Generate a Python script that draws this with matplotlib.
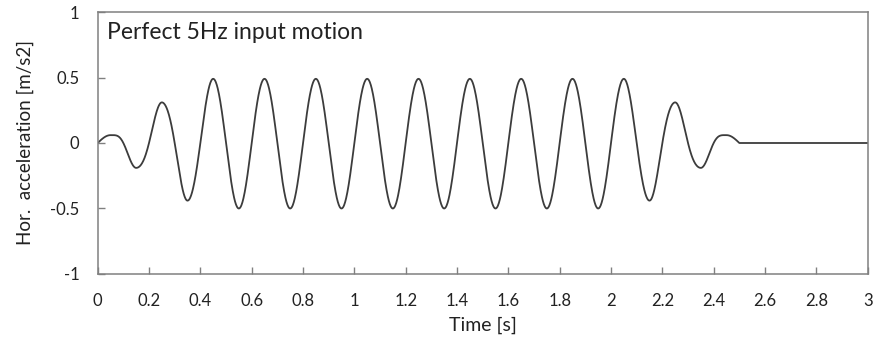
import matplotlib
matplotlib.use("Agg")
import matplotlib.pyplot as plt
import numpy as np

# ─── Data ────────────────────────────────────────────────────────────────────
# peak value of each half-cycle (0.1 s long) of the 5 Hz motion, 0 – 2.5 s
HALF_CYCLE_S = 0.1
LOBE_PEAKS = [0.06, -0.19, 0.31, -0.44, 0.49, -0.50, 0.49, -0.50, 0.49, -0.50,
              0.49, -0.50, 0.49, -0.50, 0.49, -0.50, 0.49, -0.50, 0.49, -0.50,
              0.49, -0.44, 0.31, -0.19, 0.06]
T_END = 3.0
X_TICKS = [0, 0.2, 0.4, 0.6, 0.8, 1, 1.2, 1.4, 1.6, 1.8, 2, 2.2, 2.4, 2.6, 2.8, 3]
X_TICK_LABELS = ["0", "0.2", "0.4", "0.6", "0.8", "1", "1.2", "1.4", "1.6",
                 "1.8", "2", "2.2", "2.4", "2.6", "2.8", "3"]
Y_TICKS = [-1, -0.5, 0, 0.5, 1]
Y_TICK_LABELS = ["-1", "-0.5", "0", "0.5", "1"]

plt.rcParams.update({
    "font.family": ["Lato", "DejaVu Sans"],
    "font.size": 12,
})

# ─── Build the trace ─────────────────────────────────────────────────────────
# carrier = sine with the half-cycle length above; its envelope passes through
# the read peak magnitudes, blended smoothly between lobe centres
n = len(LOBE_PEAKS)
h = HALF_CYCLE_S
t_wave = np.linspace(0, n * h, 2000)
mag = np.abs(LOBE_PEAKS)
centres = np.concatenate([[0.0], (np.arange(n) + 0.5) * h, [n * h]])
mags = np.concatenate([[mag[0]], mag, [mag[-1]]])
idx = np.clip(np.searchsorted(centres, t_wave, side="right") - 1, 0, len(centres) - 2)
s = (t_wave - centres[idx]) / (centres[idx + 1] - centres[idx])
env = mags[idx] + (mags[idx + 1] - mags[idx]) * (1 - np.cos(np.pi * s)) / 2
sign0 = np.sign(LOBE_PEAKS[0])
a_wave = sign0 * env * np.sin(np.pi * t_wave / h)

t = np.concatenate([t_wave, [T_END]])
a = np.concatenate([a_wave, [0.0]])

fig = plt.figure(figsize=(8.76, 3.43), dpi=100)
ax = fig.add_axes([0.1115, 0.2012, 0.879, 0.7638])

ax.plot(t, a, color="#3c3c3c", lw=1.3)

ax.set_xlim(0, 3)
ax.set_ylim(-1, 1)
ax.set_xticks(X_TICKS)
ax.set_xticklabels(X_TICK_LABELS)
ax.set_yticks(Y_TICKS)
ax.set_yticklabels(Y_TICK_LABELS)
ax.tick_params(axis="x", direction="in", length=5, width=1, color="#808080",
               pad=14, labelsize=12, labelcolor="#222222")
ax.tick_params(axis="y", direction="in", length=5, width=1, color="#808080",
               pad=13, labelsize=12, labelcolor="#222222")
for sp in ax.spines.values():
    sp.set_color("#808080")
    sp.set_linewidth(1.1)

ax.set_xlabel("Time [s]", fontsize=14, color="#222222", labelpad=5)
ax.set_ylabel("Hor.  acceleration [m/s2]", fontsize=13.5, color="#222222",
              labelpad=12)
ax.text(0.012, 0.92, "Perfect 5Hz input motion", transform=ax.transAxes,
        fontsize=16.5, color="#222222", va="center", ha="left")

fig.savefig("out.png", dpi=100)
